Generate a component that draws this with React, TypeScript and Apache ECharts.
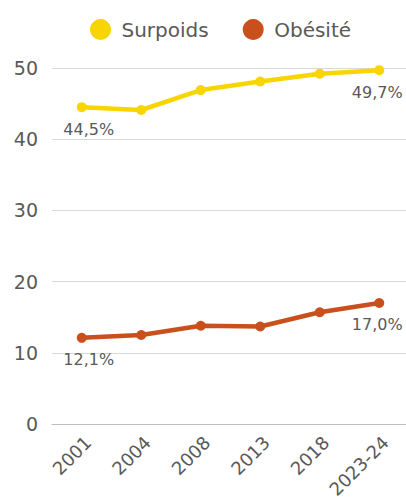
import React, { useEffect, useRef } from "react";
import * as echarts from "echarts";

const categories = ["2001", "2004", "2008", "2013", "2018", "2023-24"];
const surpoids = [44.5, 44.1, 46.9, 48.1, 49.2, 49.7];
const obesite = [12.1, 12.5, 13.8, 13.7, 15.7, 17.0];
const yTicks = [0, 10, 20, 30, 40, 50];

const FONT = "'DejaVu Sans', sans-serif";
const TEXT = "#595959";

function withEndLabels(values: number[]) {
  return values.map((v, i) => {
    if (i === 0 || i === values.length - 1) {
      return {
        value: v,
        label: {
          show: true,
          position: "bottom",
          distance: 9,
          offset: i === 0 ? [7, 0] : [-2, 0],
          formatter: v.toFixed(1).replace(".", ",") + "%",
          color: TEXT,
          fontSize: 16,
          fontFamily: FONT,
        },
      };
    }
    return v;
  });
}

export default function App() {
  const ref = useRef<HTMLDivElement>(null);
  useEffect(() => {
    if (!ref.current) return;
    const chart = echarts.init(ref.current, undefined, { renderer: "svg" });
    chart.setOption({
      animation: false,
      textStyle: { fontFamily: FONT },
      legend: {
        top: 14,
        left: 85,
        icon: "circle",
        itemWidth: 32,
        itemHeight: 21,
        itemGap: 34,
        textStyle: { color: TEXT, fontSize: 20, fontFamily: FONT },
        data: ["Surpoids", "Obésité"],
      },
      grid: {
        left: 52,
        right: -3,
        top: 68,
        bottom: 75,
        containLabel: false,
        outerBoundsMode: "none",
      },
      xAxis: {
        type: "category",
        data: categories,
        boundaryGap: true,
        axisLine: { show: true, lineStyle: { color: "#bfbfbf", width: 1 } },
        axisTick: { show: false },
        axisLabel: {
          rotate: 45,
          color: TEXT,
          fontSize: 18,
          fontFamily: FONT,
          margin: 9,
          interval: 0,
          verticalAlign: "top",
        },
      },
      yAxis: {
        type: "value",
        min: yTicks[0],
        max: yTicks[yTicks.length - 1],
        interval: 10,
        axisLine: { show: false },
        axisTick: { show: false },
        splitLine: { lineStyle: { color: "#d9d9d9", width: 1 } },
        axisLabel: { color: TEXT, fontSize: 19, fontFamily: FONT, margin: 14 },
      },
      series: [
        {
          name: "Surpoids",
          type: "line",
          data: withEndLabels(surpoids),
          color: "#F9D500",
          lineStyle: { width: 4.5 },
          symbol: "circle",
          symbolSize: 10,
        },
        {
          name: "Obésité",
          type: "line",
          data: withEndLabels(obesite),
          color: "#C9501C",
          lineStyle: { width: 4.5 },
          symbol: "circle",
          symbolSize: 10,
        },
      ],
    });
    return () => chart.dispose();
  }, []);
  return (
    <div
      ref={ref}
      style={{ position: "absolute", left: 0, top: 0, width: 406, height: 499 }}
    />
  );
}
